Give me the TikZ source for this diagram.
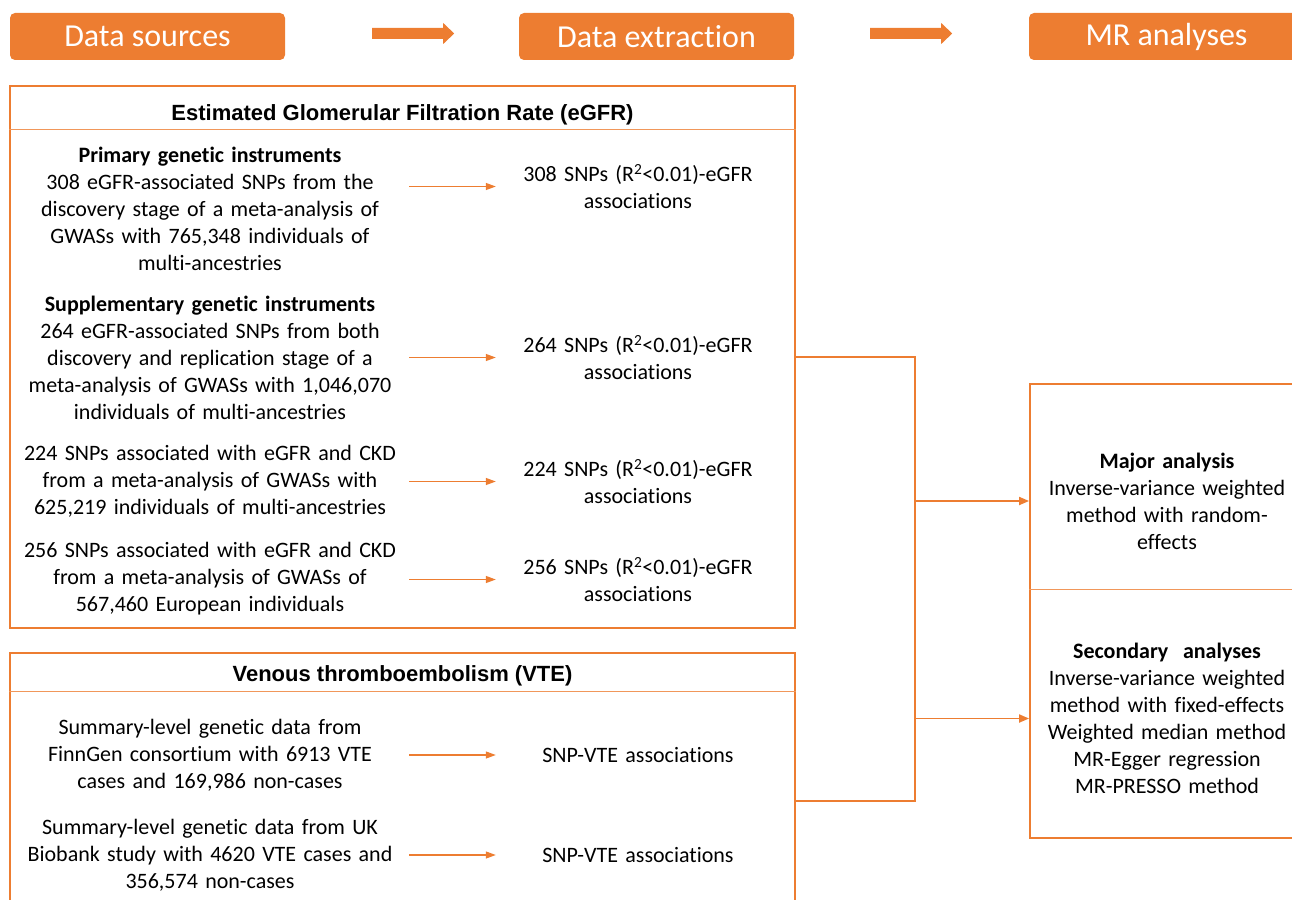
\documentclass[tikz,border=0pt]{standalone}
\usepackage{fontspec}
\setmainfont{Carlito}[Ligatures=NoCommon]
\newfontfamily\arialfont{Liberation Sans}
\usetikzlibrary{arrows.meta,calc,positioning}
\definecolor{mrorange}{HTML}{ED7D31}
\tikzset{>=latex,
  hdr/.style={fill=mrorange, rounded corners=5pt, text=white, inner sep=0pt,
    minimum width=275pt, minimum height=47pt, font=\fontsize{32}{38}\selectfont},
  panel/.style={draw=mrorange, line width=1.8pt, inner sep=0pt},
  sep/.style={draw=mrorange!80, line width=1.2pt},
  paneltitle/.style={inner sep=0pt, font=\arialfont\bfseries\fontsize{22}{27}\selectfont},
  srctext/.style={align=center, text width=398pt, inner sep=0pt, font=\fontsize{22}{27}\selectfont},
  exttext/.style={align=center, text width=284pt, inner sep=0pt, font=\fontsize{22}{27}\selectfont},
  restext/.style={align=center, text width=262pt, inner sep=0pt, font=\fontsize{22}{27}\selectfont},
  sarrow/.style={draw=mrorange, line width=1.2pt, -{Triangle[length=10pt,width=7pt]}},
  link/.style={draw=mrorange, line width=1.8pt},
  larrow/.style={link, -{Triangle[length=10pt,width=8pt]}},
}
\begin{document}
\begin{tikzpicture}[x=1pt,y=-1pt]
  \useasboundingbox (0,0) rectangle (1292,899);
  \clip (0,0) rectangle (1292,899);

  % header row
  \node[hdr] (hsrc) at (147.5,36.5) {Data sources};
  \node[hdr] (hext) at (656.5,36.5) {Data extraction};
  \node[hdr] (hmr) at (1166.5,36.5) {MR analyses};
  \coordinate (a1) at ($(hsrc.east)+(87,-3)$);
  \coordinate (a2) at ($(hext.east)+(76,-3)$);
  \foreach \a in {a1,a2}
    \fill[mrorange] (\a) ++(0,-5.5) -- ++(71,0) -- ++(0,-5) -- ++(11,10.5)
      -- ++(-11,10.5) -- ++(0,-5) -- ++(-71,0) -- cycle;

  % panels
  \node[panel, minimum width=785pt, minimum height=542pt] (egfr) at (402.5,357) {};
  \node[paneltitle] (egfrt) at ($(egfr.north)+(0,30)$) {Estimated Glomerular Filtration Rate (eGFR)};
  \draw[sep] ($(egfr.north west)+(0,44)$) -- ($(egfr.north east)+(0,44)$);

  \node[panel, minimum width=785pt, minimum height=296pt] (vte) at (402.5,801) {};
  \node[paneltitle] (vtet) at ($(vte.north)+(0,24)$) {Venous thromboembolism (VTE)};
  \draw[sep] ($(vte.north west)+(0,39)$) -- ($(vte.north east)+(0,39)$);

  % data sources
  \node[srctext] (l1) at (210,209) {\textbf{Primary genetic instruments}\\308 eGFR-associated SNPs from the\\discovery stage of a meta-analysis of\\GWASs with 765,348 individuals of\\multi-ancestries};
  \node[srctext] (l2) at (210,357.5) {\textbf{Supplementary genetic instruments}\\264 eGFR-associated SNPs from both\\discovery and replication stage of a\\meta-analysis of GWASs with 1,046,070\\individuals of multi-ancestries};
  \node[srctext] (l3) at (210,481) {224 SNPs associated with eGFR and CKD\\from a meta-analysis of GWASs with\\625,219 individuals of multi-ancestries};
  \node[srctext] (l4) at (210,579) {256 SNPs associated with eGFR and CKD\\from a meta-analysis of GWASs of\\567,460 European individuals};
  \node[srctext] (l5) at (210,755) {Summary-level genetic data from\\FinnGen consortium with 6913 VTE\\cases and 169,986 non-cases};
  \node[srctext] (l6) at (210,855) {Summary-level genetic data from UK\\Biobank study with 4620 VTE cases and\\356,574 non-cases};

  % extracted data
  \node[exttext] (r1) at (638,186.5) {308 SNPs (R\textsuperscript{2}<0.01)-eGFR\\associations};
  \node[exttext] (r2) at (638,357.5) {264 SNPs (R\textsuperscript{2}<0.01)-eGFR\\associations};
  \node[exttext] (r3) at (638,481.5) {224 SNPs (R\textsuperscript{2}<0.01)-eGFR\\associations};
  \node[exttext] (r4) at (638,579.5) {256 SNPs (R\textsuperscript{2}<0.01)-eGFR\\associations};
  \node[exttext] (r5) at (638,755) {SNP-VTE associations};
  \node[exttext] (r6) at (638,855) {SNP-VTE associations};

  \foreach \i in {1,...,6}
    \draw[sarrow] (r\i.west -| l\i.east) -- (r\i.west);

  % MR analyses
  \node[panel, minimum width=274pt, minimum height=454pt] (mrbox) at (1167,611) {};
  \draw[sep] ($(mrbox.north west)+(0,206)$) -- ($(mrbox.north east)+(0,206)$);
  \node[restext] (maj) at (1167,501) {\textbf{Major analysis}\\Inverse-variance weighted\\method with random-\\effects};
  \node[restext] (sec) at (1167,718.5) {\textbf{Secondary\ \ analyses}\\Inverse-variance weighted\\method with fixed-effects\\Weighted median method\\MR-Egger regression\\MR-PRESSO method};

  % connectors
  \coordinate (jx) at ($(egfr.east)+(119,0)$);
  \draw[link] (egfr.east) -- (jx) -- (jx |- vte.east) -- (vte.east);
  \draw[larrow] (jx |- maj) -- (maj -| mrbox.west);
  \draw[larrow] (jx |- sec) -- (sec -| mrbox.west);
\end{tikzpicture}
\end{document}
